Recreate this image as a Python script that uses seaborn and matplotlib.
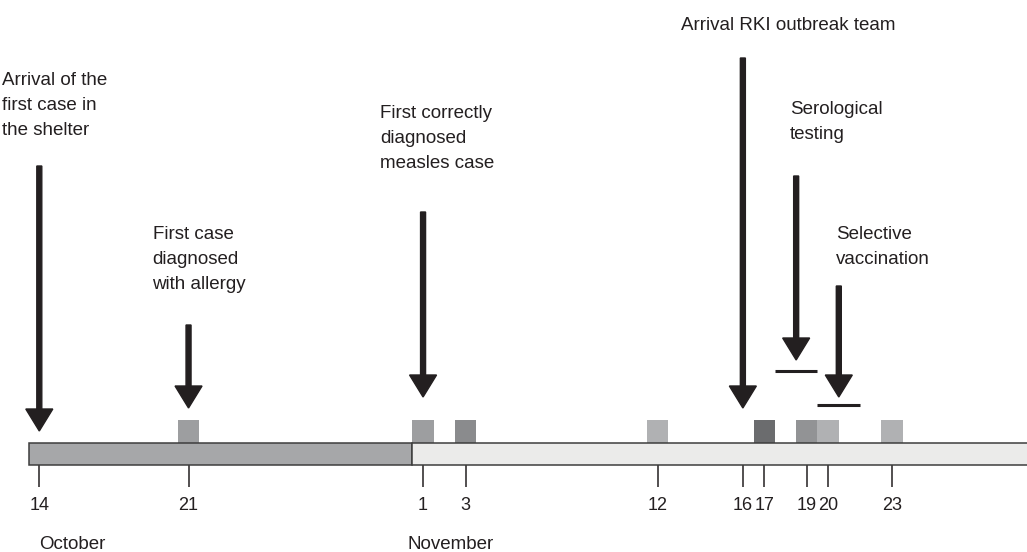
import matplotlib
matplotlib.use("Agg")
import matplotlib.pyplot as plt
import pandas as pd
import seaborn as sns

# Timeline data, days counted from 14 October (day 0)
tick_days = [0, 7, 18, 20, 29, 33, 34, 36, 37, 40]
tick_labels = ["14", "21", "1", "3", "12", "16", "17", "19", "20", "23"]

month_names = ["October", "November"]
month_bounds = [-0.5, 17.5, 48]

# measles cases (small boxes above the time bar)
case_days = [7, 18, 20, 29, 34, 36, 37, 40]
case_shade = ["light", "light", "dark", "lightest", "darkest", "medium", "lightest", "lightest"]

event_labels = [
    "Arrival of the\nfirst case in\nthe shelter",
    "First case\ndiagnosed\nwith allergy",
    "First correctly\ndiagnosed\nmeasles case",
    "Arrival RKI outbreak team",
    "Serological\ntesting",
    "Selective\nvaccination",
]
event_days = [0, 7, 18, 33, 35.5, 37.5]
event_underlined = [False, False, False, False, True, True]

# layout (y in pixels from the top, x offsets in days)
px_per_day = 21.32
x0_px = 39.3
bar_top, bar_bottom, box_top = 443, 465, 420
arrow_top = [166, 325, 212, 58, 176, 286]
arrow_tip = [431, 408, 397, 408, 360, 397]
label_top = [72, 226, 105, 17, 101, 226]
label_dx = [-1.74, -1.69, -2.02, -2.91, -0.28, -0.14]
underline_y = [None, None, None, None, 371, 405]
month_label_x = [0.0, 17.25]
month_label_top = 536

ink = "#231f20"
shade_colors = {"lightest": "#b0b1b3", "light": "#9d9ea0", "medium": "#929395",
                "dark": "#8a8b8d", "darkest": "#6b6c6e"}
month_colors = ["#a6a7a9", "#ebebea"]

sns.set_theme(style="white")
plt.rcParams["font.family"] = ["Liberation Sans", "DejaVu Sans"]

fig = plt.figure(figsize=(10.27, 5.52), dpi=100)
ax = fig.add_axes([0, 0, 1, 1])

cases = pd.DataFrame({"day": case_days, "shade": case_shade})
cases["height"] = box_top - bar_top
sns.barplot(data=cases, x="day", y="height", hue="shade", palette=shade_colors,
            native_scale=True, width=1.0, bottom=bar_top, errorbar=None,
            saturation=1, linewidth=0, legend=False, ax=ax)

# time bar, one segment per month
ax.barh(y=(bar_top + bar_bottom) / 2,
        width=[b - a for a, b in zip(month_bounds[:-1], month_bounds[1:])],
        left=month_bounds[:-1], height=bar_bottom - bar_top,
        color=month_colors, edgecolor="#3d3d3d", linewidth=1.1, zorder=3)

for i, label in enumerate(event_labels):
    x = event_days[i]
    ax.arrow(x, arrow_top[i], 0, arrow_tip[i] - arrow_top[i],
             width=5 / px_per_day, head_width=27 / px_per_day, head_length=22,
             length_includes_head=True, color=ink, zorder=4)
    ax.text(x + label_dx[i], label_top[i], label, ha="left", va="top",
            fontsize=13.5, linespacing=1.63, color=ink)
    if event_underlined[i]:
        ax.hlines(underline_y[i], x - 1.0, x + 1.0, color=ink, linewidth=2.2)

for name, x in zip(month_names, month_label_x):
    ax.text(x, month_label_top, name, ha="left", va="top", fontsize=13.5, color=ink)

ax.set_xlim(-x0_px / px_per_day, (1027 - x0_px) / px_per_day)
ax.set_ylim(552, 0)
ax.set_xlabel("")
ax.set_ylabel("")
ax.set_yticks([])
ax.set_xticks(tick_days)
ax.set_xticklabels(tick_labels)
for side in ["top", "left", "right"]:
    ax.spines[side].set_visible(False)
ax.spines["bottom"].set_position(("data", bar_bottom))
ax.spines["bottom"].set_color("none")
ax.tick_params(axis="x", direction="out", length=15.8, width=1.1, color=ink,
               pad=7.2, labelsize=13, labelcolor=ink, bottom=True)
ax.patch.set_alpha(0)

fig.savefig("out.png", dpi=100)
